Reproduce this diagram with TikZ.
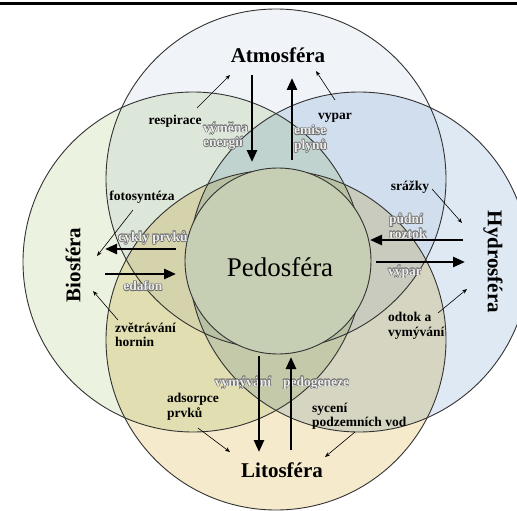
\documentclass[tikz,border=0pt]{standalone}
\usepackage{fontspec}
\setmainfont{Liberation Serif}
\usetikzlibrary{arrows.meta}

\definecolor{atmocol}{HTML}{F0F4F9}
\definecolor{biocol}{HTML}{EBF2DF}
\definecolor{hydrocol}{HTML}{DFE9F4}
\definecolor{litocol}{HTML}{F5EACB}
\definecolor{pedocol}{HTML}{C6CFB3}
\definecolor{flowgray}{HTML}{6E6E6E}
\definecolor{flowfill}{HTML}{EDEDED}

% hollow (outlined) text
\newcommand{\outlinetext}[1]{%
  \makebox[0pt][l]{\kern0.6pt\textcolor{flowgray}{#1}}%
  \makebox[0pt][l]{\kern-0.6pt\textcolor{flowgray}{#1}}%
  \makebox[0pt][l]{\raisebox{0.6pt}{\textcolor{flowgray}{#1}}}%
  \makebox[0pt][l]{\raisebox{-0.6pt}{\textcolor{flowgray}{#1}}}%
  \makebox[0pt][l]{\kern0.45pt\raisebox{0.45pt}{\textcolor{flowgray}{#1}}}%
  \makebox[0pt][l]{\kern-0.45pt\raisebox{0.45pt}{\textcolor{flowgray}{#1}}}%
  \makebox[0pt][l]{\kern0.45pt\raisebox{-0.45pt}{\textcolor{flowgray}{#1}}}%
  \makebox[0pt][l]{\kern-0.45pt\raisebox{-0.45pt}{\textcolor{flowgray}{#1}}}%
  \textcolor{flowfill}{#1}}

\begin{document}
\begin{tikzpicture}[x=1pt, y=-1pt]
    % Styles
    \tikzstyle{sphere} = [draw=black!80, line width=0.9pt]
    \tikzstyle{title} = [font=\fontsize{21}{24}\selectfont\bfseries, inner sep=0pt]
    \tikzstyle{proc} = [font=\fontsize{13.5}{14.5}\selectfont\bfseries, inner sep=0pt, align=left]
    \tikzstyle{flow} = [proc]
    \tikzstyle{bigline} = [draw, line width=2.6pt, -{Triangle[length=12pt, width=10pt]}]
    \tikzstyle{thinline} = [draw, line width=0.6pt, -{Stealth[length=5pt, width=4pt]}]

    \useasboundingbox (0,0) rectangle (517,511);
    \fill[white] (0,0) rectangle (517,511);

    % Spheres
    \begin{scope}[blend group=multiply]
        \fill[atmocol] (276,179) circle[radius=170pt];
        \fill[biocol] (193,262) circle[radius=170pt];
        \fill[hydrocol] (359,262) circle[radius=170pt];
        \fill[litocol] (276,340) circle[radius=170pt];
    \end{scope}
    \draw[sphere] (276,179) circle[radius=170pt];
    \draw[sphere] (193,262) circle[radius=170pt];
    \draw[sphere] (359,262) circle[radius=170pt];
    \draw[sphere] (276,340) circle[radius=170pt];
    \filldraw[sphere, fill=pedocol] (278,261) circle[radius=93pt];

    \draw[line width=3pt] (0,4) -- (517,4);

    % Nodes
    \node[title] (atm) at (278,55) {Atmosféra};
    \node[title] (lit) at (282,470) {Litosféra};
    \node[title, rotate=90] (bio) at (73,265) {Biosféra};
    \node[title, rotate=-90] (hyd) at (493,262) {Hydrosféra};
    \node[font=\fontsize{27}{30}\selectfont, inner sep=0pt] (ped) at (280,267) {Pedosféra};

    \node[proc] (resp) at (175,121) {respirace};
    \node[flow, anchor=west] (vymena) at (203,136) {\outlinetext{výměna}\\\outlinetext{energií}};
    \node[proc] (vypar) at (335,118) {vypar};
    \node[flow, anchor=west] (emise) at (294,139) {\outlinetext{emise}\\\outlinetext{plynů}};
    \node[proc] (foto) at (142,197) {fotosyntéza};
    \node[flow] (cykly) at (153,238) {\outlinetext{cykly prvků}};
    \node[flow] (edafon) at (143,286) {\outlinetext{edafon}};
    \node[proc, anchor=west] (zvetr) at (115,335) {zvětrávání\\hornin};
    \node[proc] (srazky) at (410,187) {srážky};
    \node[flow, anchor=west] (roztok) at (389,226) {\outlinetext{půdní}\\\outlinetext{roztok}};
    \node[flow] (vyparpuda) at (405,272) {\outlinetext{výpar}};
    \node[proc, anchor=west] (odtok) at (388,326) {odtok a\\vymývání};
    \node[flow] (vymyv) at (243,383) {\outlinetext{vymývání}};
    \node[flow] (pedog) at (316,383) {\outlinetext{pedogeneze}};
    \node[proc, anchor=west] (adsor) at (167,407) {adsorpce\\prvků};
    \node[proc, anchor=west] (syceni) at (312,416) {sycení\\podzemních vod};

    % Arrow ends
    \coordinate (atmdown) at (252,75);
    \coordinate (peddown) at (252,162);
    \coordinate (pedup) at (292,160);
    \coordinate (atmup) at (292,78);
    \coordinate (pedleft) at (176,249);
    \coordinate (bioleft) at (105,249);
    \coordinate (bioright) at (105,274);
    \coordinate (pedright) at (176,274);
    \coordinate (hydleft) at (463,240);
    \coordinate (pedhleft) at (370,240);
    \coordinate (pedhright) at (376,262);
    \coordinate (hydright) at (465,262);
    \coordinate (peddownl) at (259,356);
    \coordinate (litdown) at (259,452);
    \coordinate (litup) at (291,450);
    \coordinate (pedupl) at (291,357);

    \coordinate (resps) at (197,108);  \coordinate (respe) at (230,75);
    \coordinate (vypars) at (335,100); \coordinate (vypare) at (316,71);
    \coordinate (fotos) at (133,210);  \coordinate (fotoe) at (97,256);
    \coordinate (zvetrs) at (118,320); \coordinate (zvetre) at (93,291);
    \coordinate (srazs) at (432,189);  \coordinate (raze) at (462,223);
    \coordinate (odtoks) at (438,313); \coordinate (odtoke) at (467,289);
    \coordinate (adsors) at (198,428); \coordinate (adsore) at (230,452);
    \coordinate (sycens) at (355,432); \coordinate (sycene) at (325,457);

    % Connections
    \path[bigline] (atmdown) -- (peddown);
    \path[bigline] (pedup) -- (atmup);
    \path[bigline] (pedleft) -- (bioleft);
    \path[bigline] (bioright) -- (pedright);
    \path[bigline] (hydleft) -- (pedhleft);
    \path[bigline] (pedhright) -- (hydright);
    \path[bigline] (peddownl) -- (litdown);
    \path[bigline] (litup) -- (pedupl);

    \path[thinline] (resps) -- (respe);
    \path[thinline] (vypars) -- (vypare);
    \path[thinline] (fotos) -- (fotoe);
    \path[thinline] (zvetrs) -- (zvetre);
    \path[thinline] (srazs) -- (raze);
    \path[thinline] (odtoks) -- (odtoke);
    \path[thinline] (adsors) -- (adsore);
    \path[thinline] (sycens) -- (sycene);
\end{tikzpicture}
\end{document}
